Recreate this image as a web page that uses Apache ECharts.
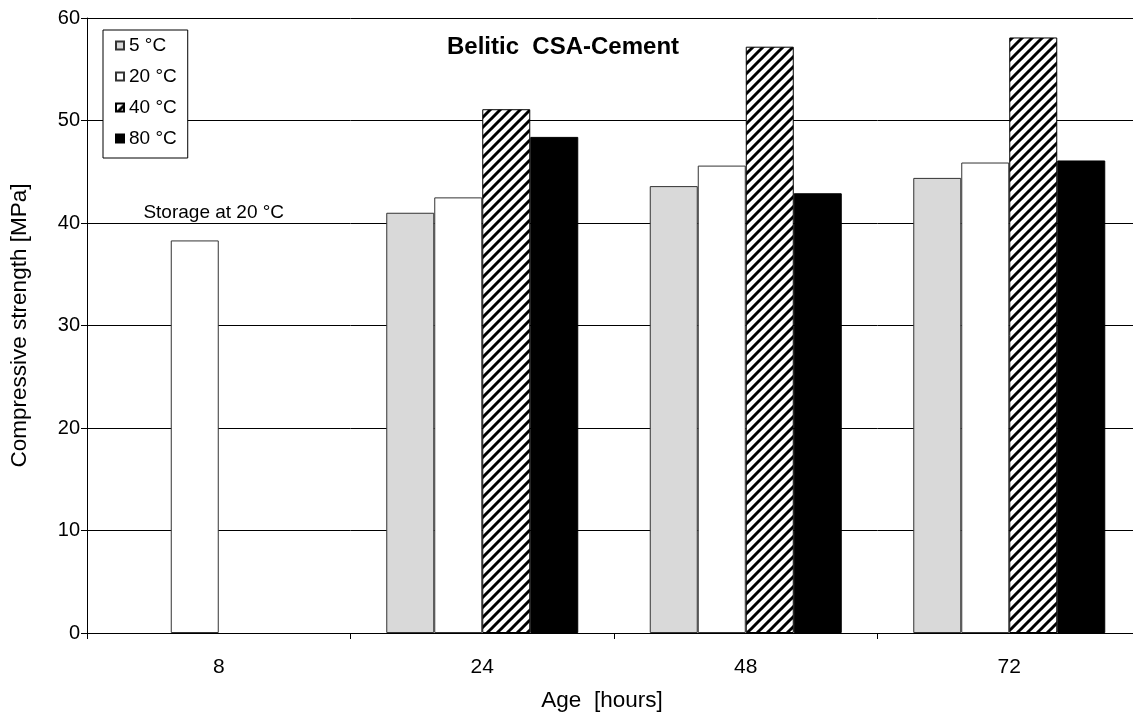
<!DOCTYPE html>
<html>
<head>
<meta charset="utf-8">
<script src="https://cdn.jsdelivr.net/npm/echarts@6/dist/echarts.min.js"></script>
<style>
html,body{margin:0;padding:0;background:#fff;overflow:hidden;width:1133px;height:717px;}
#chart{width:1145px;height:717px;}
</style>
</head>
<body>
<div id="chart"></div>
<script>
// ---- data ----
const categories = ['8', '24', '48', '72'];
const seriesNames = ['5 °C', '20 °C', '40 °C', '80 °C'];
const s5 = [null, 41.0, 43.6, 44.4];
const s20 = [38.3, 42.5, 45.6, 45.9];
const s40 = [null, 51.1, 57.2, 58.1];
const s80 = [null, 48.4, 42.9, 46.1];
const yTicks = [0, 10, 20, 30, 40, 50, 60];
const chartTitle = 'Belitic  CSA-Cement';
const xName = 'Age  [hours]';
const yName = 'Compressive strength [MPa]';
const noteText = 'Storage at 20 °C';
const noteAt = ['8', 40];

// stripe pattern for 40 °C
function makeStripes() {
  const c = document.createElement('canvas');
  const p = 10;
  c.width = p; c.height = p;
  const g = c.getContext('2d');
  g.fillStyle = '#fff';
  g.fillRect(0, 0, p, p);
  g.strokeStyle = '#000';
  g.lineWidth = 3;
  g.beginPath();
  for (let k = -1; k <= 1; k++) {
    g.moveTo(k * p - 1, p + 1);
    g.lineTo(k * p + p + 1, -1);
  }
  g.stroke();
  return c;
}
const stripes = makeStripes();

const font = 'Liberation Sans, Arial, sans-serif';
const chart = echarts.init(document.getElementById('chart'), null, {renderer: 'canvas'});

function bar(name, data, fill, border) {
  return {
    name: name,
    type: 'bar',
    data: data,
    barWidth: 48,
    barGap: '0%',
    itemStyle: {color: fill, borderColor: border, borderWidth: 1},
    emphasis: {disabled: true},
    animation: false
  };
}

const series = [
  bar(seriesNames[0], s5, '#d9d9d9', '#333'),
  Object.assign(bar(seriesNames[1], s20, '#ffffff', '#333'), {
    markPoint: {
      symbol: 'rect', symbolSize: 1,
      itemStyle: {color: 'rgba(0,0,0,0)'},
      label: {show: true, formatter: noteText, color: '#000', fontFamily: font, fontSize: 19, position: 'inside', offset: [19, -10]},
      data: [{coord: noteAt}]
    }
  }),
  bar(seriesNames[2], s40, {image: stripes, repeat: 'repeat'}, '#000'),
  bar(seriesNames[3], s80, '#000000', '#000')
];

chart.setOption({
  backgroundColor: '#fff',
  animation: false,
  title: {
    text: chartTitle,
    left: 447, top: 35,
    padding: 0,
    textStyle: {fontFamily: font, fontSize: 24, fontWeight: 'bold', color: '#000'}
  },
  legend: {
    orient: 'vertical',
    left: 103, top: 30,
    padding: [6, 11, 10, 12],
    itemGap: 12,
    itemWidth: 8, itemHeight: 8,
    icon: 'rect',
    backgroundColor: '#fff',
    borderColor: '#000', borderWidth: 1,
    textStyle: {fontFamily: font, fontSize: 19, color: '#000'},
    data: seriesNames
  },
  grid: {left: 86, top: 18, right: 4, height: 624, containLabel: false},
  xAxis: {
    type: 'category',
    data: categories,
    boundaryGap: true,
    name: xName,
    nameLocation: 'middle',
    nameGap: 56,
    nameTextStyle: {fontFamily: font, fontSize: 22.5, color: '#000', padding: [0, 24, 0, 0]},
    axisLine: {show: true, lineStyle: {color: '#000', width: 1}},
    axisTick: {show: true, length: 6, inside: false, lineStyle: {color: '#000'}},
    axisLabel: {fontFamily: font, fontSize: 21, color: '#000', margin: 24},
    splitLine: {show: false}
  },
  yAxis: {
    type: 'value',
    min: yTicks[0], max: yTicks[yTicks.length - 1], interval: 10,
    name: yName,
    nameLocation: 'middle',
    nameGap: 56,
    nameTextStyle: {fontFamily: font, fontSize: 22.5, color: '#000'},
    axisLine: {show: true, lineStyle: {color: '#000', width: 1}},
    axisTick: {show: true, length: 6, inside: false, lineStyle: {color: '#000'}},
    axisLabel: {fontFamily: font, fontSize: 20, color: '#000', margin: 7},
    splitLine: {show: true, lineStyle: {color: '#000', width: 1}}
  },
  series: series
});
</script>
</body>
</html>
